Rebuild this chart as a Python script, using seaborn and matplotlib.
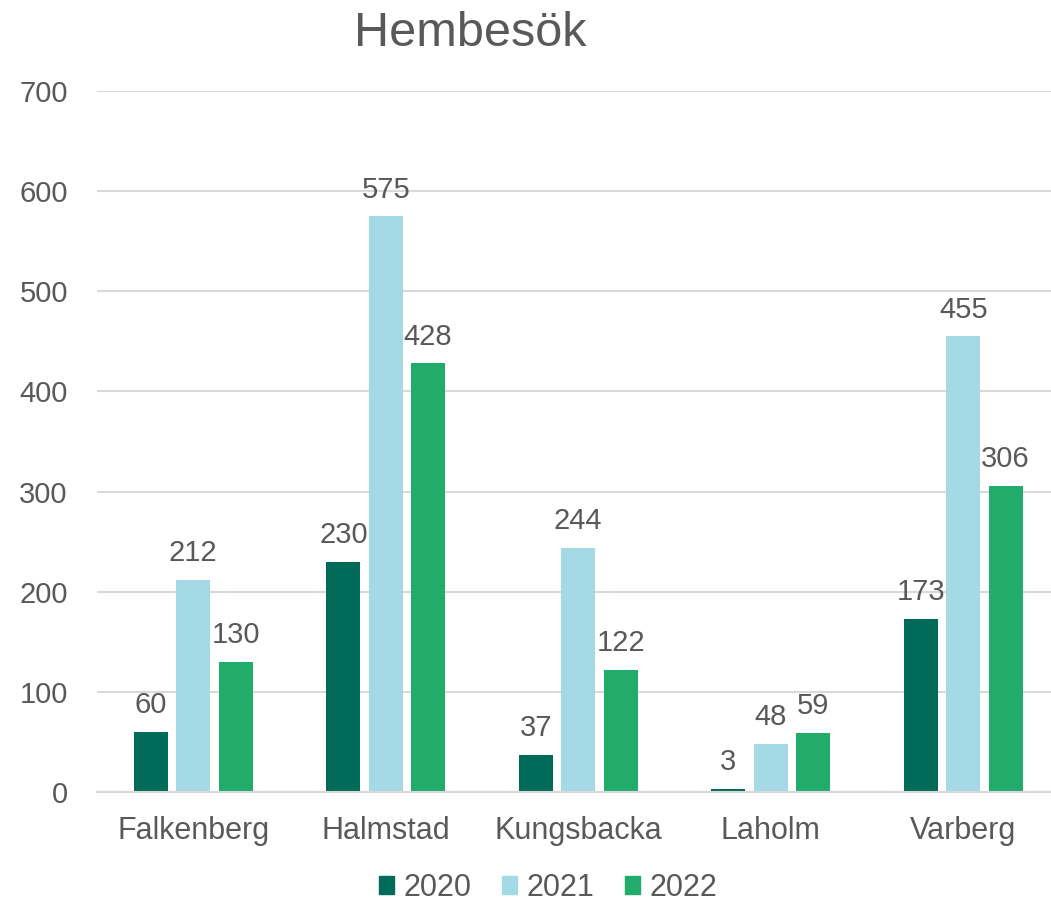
import matplotlib
matplotlib.use("Agg")
import matplotlib.pyplot as plt
import seaborn as sns
import pandas as pd

cities = ["Falkenberg", "Halmstad", "Kungsbacka", "Laholm", "Varberg"]
years = ["2020", "2021", "2022"]
v2020 = [60, 230, 37, 3, 173]
v2021 = [212, 575, 244, 48, 455]
v2022 = [130, 428, 122, 59, 306]
colors = ["#006B58", "#A5D9E6", "#21AC6C"]

rows = []
for y, vals in zip(years, [v2020, v2021, v2022]):
    for c, v in zip(cities, vals):
        rows.append({"city": c, "year": y, "value": v})
df = pd.DataFrame(rows)

sns.set_style("white")
plt.rcParams["font.family"] = ["Liberation Sans", "DejaVu Sans"]
txt = "#595959"

fig = plt.figure(figsize=(10.51, 9.02), dpi=100)
ax = fig.add_axes([97/1051, 110/902, 1 - 97/1051, 701/902])

sns.barplot(data=df, x="city", y="value", hue="year", hue_order=years,
            palette=colors, width=0.66, gap=0.2, ax=ax, saturation=1,
            linewidth=0, legend=True)

for cont in ax.containers:
    ax.bar_label(cont, fmt="%d", padding=9, fontsize=21, color=txt)

ax.set_ylim(0, 700)
ax.set_xlim(-0.5, 4.456)
ax.set_yticks(range(0, 701, 100))
ax.yaxis.grid(True, color="#D9D9D9", linewidth=1.5)
ax.set_axisbelow(True)
for s in ["top", "right", "left"]:
    ax.spines[s].set_visible(False)
ax.spines["bottom"].set_color("#D9D9D9")
ax.spines["bottom"].set_linewidth(1.5)
ax.tick_params(axis="y", length=0, labelsize=21, labelcolor=txt, pad=21)
ax.tick_params(axis="x", length=0, labelsize=22, labelcolor=txt, pad=17)
ax.set_xlabel("")
ax.set_ylabel("")

ax.legend_.remove()
handles = [plt.Rectangle((0, 0), 1, 1, color=c) for c in colors]
fig.legend(handles, years, loc="center", bbox_to_anchor=(548/1051, 1 - 888/902),
           ncol=3, frameon=False, fontsize=22, labelcolor=txt,
           handlelength=0.5, handleheight=0.5, handletextpad=0.3, columnspacing=1.0)

fig.text(470/1051, 1 - 33/902, "Hembesök", ha="center", va="center",
         fontsize=35, color=txt)

fig.savefig("out.png", dpi=100)
